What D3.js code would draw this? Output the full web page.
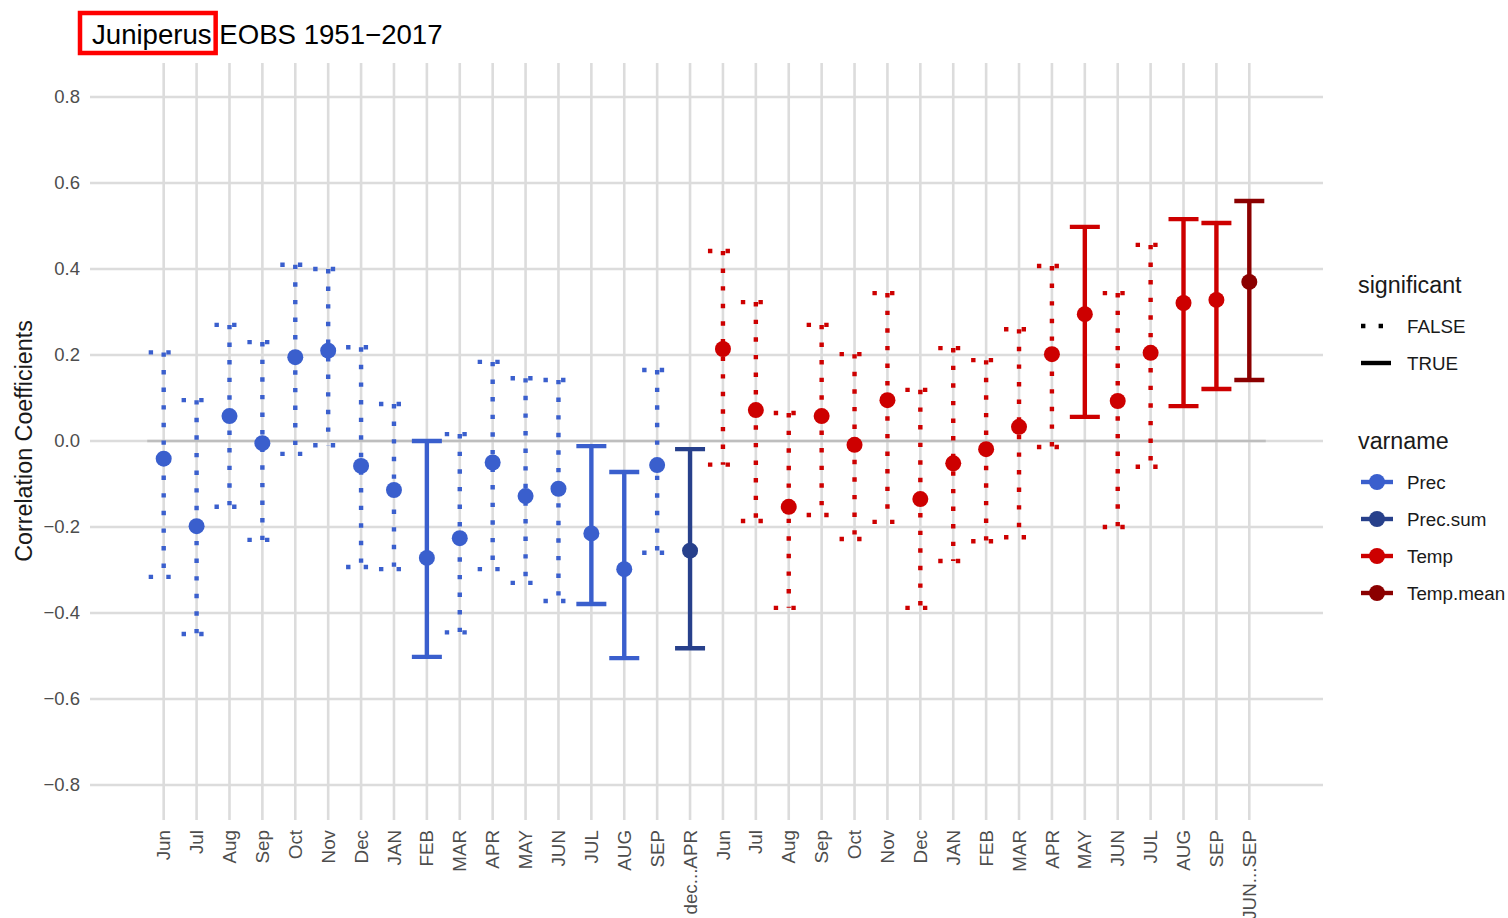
<!DOCTYPE html>
<html lang="en">
<head>
  <meta charset="UTF-8">
  <title>Juniperus EOBS 1951-2017</title>
  <script src="https://d3js.org/d3.v7.min.js"></script>
  <style>
    body { margin: 0; background: #fff; font-family: "Liberation Sans", Arial, sans-serif; }
    svg text { font-family: "Liberation Sans", Arial, sans-serif; }
  </style>
</head>
<body>
<svg id="chart" width="1508" height="918"></svg>
<script>
// Categories along x (labels repeat, so marks are keyed by index)
const labels = ["Jun","Jul","Aug","Sep","Oct","Nov","Dec","JAN","FEB","MAR","APR","MAY","JUN","JUL","AUG","SEP",
  "dec...APR",
  "Jun","Jul","Aug","Sep","Oct","Nov","Dec","JAN","FEB","MAR","APR","MAY","JUN","JUL","AUG","SEP",
  "JUN...SEP"];
const varnames = [].concat(Array(16).fill("Prec"), ["Prec.sum"], Array(16).fill("Temp"), ["Temp.mean"]);
const coef  = [-0.041,-0.198, 0.058,-0.005, 0.195, 0.21,-0.058,-0.114,-0.272,-0.226,-0.05,-0.128,-0.111,-0.215,-0.298,-0.056,
  -0.255,
   0.214, 0.072,-0.153, 0.058,-0.009, 0.095,-0.135,-0.052,-0.019, 0.033, 0.202, 0.295, 0.093, 0.205, 0.321, 0.328,
   0.37];
const upper = [ 0.206, 0.095, 0.27, 0.23, 0.41, 0.40, 0.218, 0.086, 0.0, 0.016, 0.184, 0.146, 0.142,-0.012,-0.072, 0.165,
  -0.019,
   0.442, 0.323, 0.065, 0.27, 0.202, 0.344, 0.119, 0.216, 0.188, 0.26, 0.407, 0.498, 0.344, 0.456, 0.516, 0.507,
   0.558];
const lower = [-0.316,-0.449,-0.153,-0.23,-0.03,-0.01,-0.293,-0.298,-0.502,-0.445,-0.298,-0.33,-0.372,-0.379,-0.505,-0.26,
  -0.482,
  -0.055,-0.186,-0.388,-0.172,-0.228,-0.188,-0.388,-0.279,-0.233,-0.224,-0.014, 0.056,-0.2,-0.06, 0.081, 0.121,
   0.142];
const significant = [false,false,false,false,false,false,false,false,true,false,false,false,false,true,true,false,
  true,
  false,false,false,false,false,false,false,false,false,false,false,true,false,false,true,true,
  true];
const yTicks = [-0.8,-0.6,-0.4,-0.2,0.0,0.2,0.4,0.6,0.8];
const varLevels = ["Prec","Prec.sum","Temp","Temp.mean"];
const varColors = ["#3A5FCD","#27408B","#CD0000","#8B0000"];

const svg = d3.select("#chart");
const panel = {left: 90, right: 1323, top: 63, bottom: 820};

const x = d3.scalePoint().domain(d3.range(labels.length)).range([panel.left, panel.right]).padding(2.24);
const y = d3.scaleLinear().domain([-0.8, 0.8]).range([785, 97]);
const color = d3.scaleOrdinal().domain(varLevels).range(varColors);

const grid = "#DCDCDC";
// horizontal grid
svg.append("g").selectAll("line").data(yTicks).join("line")
  .attr("x1", panel.left).attr("x2", panel.right)
  .attr("y1", d => y(d)).attr("y2", d => y(d))
  .attr("stroke", grid).attr("stroke-width", 2.6);
// vertical grid
svg.append("g").selectAll("line").data(d3.range(labels.length)).join("line")
  .attr("x1", d => x(d)).attr("x2", d => x(d))
  .attr("y1", panel.top).attr("y2", panel.bottom)
  .attr("stroke", grid).attr("stroke-width", 2.6);

// zero reference line
const half = x.step() / 2;
svg.append("line")
  .attr("x1", x(0) - half).attr("x2", x(labels.length - 1) + half)
  .attr("y1", y(0)).attr("y2", y(0))
  .attr("stroke", "#BEBEBE").attr("stroke-width", 2.6);

// y axis tick labels
svg.append("g").selectAll("text").data(yTicks).join("text")
  .attr("x", 80).attr("y", d => y(d)).attr("dy", "0.35em")
  .attr("text-anchor", "end").attr("fill", "#4D4D4D").attr("font-size", 18.5)
  .text(d => d3.format(".1f")(d).replace("-", "\u2212"));

// x axis tick labels
svg.append("g").selectAll("text").data(d3.range(labels.length)).join("text")
  .attr("transform", d => `translate(${x(d)},830) rotate(-90)`)
  .attr("dy", "0.35em").attr("text-anchor", "end")
  .attr("fill", "#4D4D4D").attr("font-size", 18.8)
  .text(d => labels[d]);

// y axis title
svg.append("text")
  .attr("transform", `translate(24,${y(0)}) rotate(-90)`)
  .attr("dy", "0.35em").attr("text-anchor", "middle")
  .attr("fill", "#1A1A1A").attr("font-size", 23.3)
  .text("Correlation Coefficients");

// error bars (cap, stem, cap in one path)
const capW = 15;
const idx = d3.range(labels.length);
svg.append("g").selectAll("path").data(idx).join("path")
  .attr("d", i => `M${x(i) - capW},${y(upper[i])}H${x(i) + capW}M${x(i)},${y(upper[i])}V${y(lower[i])}M${x(i) - capW},${y(lower[i])}H${x(i) + capW}`)
  .attr("fill", "none")
  .attr("stroke", i => color(varnames[i]))
  .attr("stroke-width", 4.4)
  .attr("stroke-dasharray", i => significant[i] ? null : "4.4 13.2");

// points
svg.append("g").selectAll("circle").data(idx).join("circle")
  .attr("cx", i => x(i)).attr("cy", i => y(coef[i])).attr("r", 8)
  .attr("fill", i => color(varnames[i]));

// title with boxed genus name
const title = svg.append("text").attr("x", 92).attr("y", 44)
  .attr("font-size", 27.6).attr("fill", "#000");
title.append("tspan").attr("id", "genus").text("Juniperus");
title.append("tspan").text(" EOBS 1951\u22122017");
const gb = document.getElementById("genus").getBBox();
svg.append("rect")
  .attr("x", 80).attr("y", 13)
  .attr("width", gb.x + gb.width + 4 - 80).attr("height", 40)
  .attr("fill", "none").attr("stroke", "#FF0000").attr("stroke-width", 4.5);

// legend: significant
const lg = svg.append("g").attr("transform", "translate(1358,0)");
lg.append("text").attr("x", 0).attr("y", 285).attr("dy", "0.35em")
  .attr("font-size", 23.3).attr("fill", "#1A1A1A").text("significant");
[false, true].forEach((s, k) => {
  const yy = 326 + k * 37;
  lg.append("line").attr("x1", 3).attr("x2", 33).attr("y1", yy).attr("y2", yy)
    .attr("stroke", "#000").attr("stroke-width", 4.4)
    .attr("stroke-dasharray", s ? null : "4.4 13.2");
  lg.append("text").attr("x", 49).attr("y", yy).attr("dy", "0.35em")
    .attr("font-size", 18.8).attr("fill", "#1A1A1A").text(s ? "TRUE" : "FALSE");
});
// legend: varname
lg.append("text").attr("x", 0).attr("y", 441).attr("dy", "0.35em")
  .attr("font-size", 23.3).attr("fill", "#1A1A1A").text("varname");
varLevels.forEach((v, k) => {
  const yy = 482 + k * 37;
  lg.append("line").attr("x1", 3).attr("x2", 35).attr("y1", yy).attr("y2", yy)
    .attr("stroke", color(v)).attr("stroke-width", 4.4);
  lg.append("circle").attr("cx", 19).attr("cy", yy).attr("r", 8).attr("fill", color(v));
  lg.append("text").attr("x", 49).attr("y", yy).attr("dy", "0.35em")
    .attr("font-size", 18.8).attr("fill", "#1A1A1A").text(v);
});
</script>
</body>
</html>
